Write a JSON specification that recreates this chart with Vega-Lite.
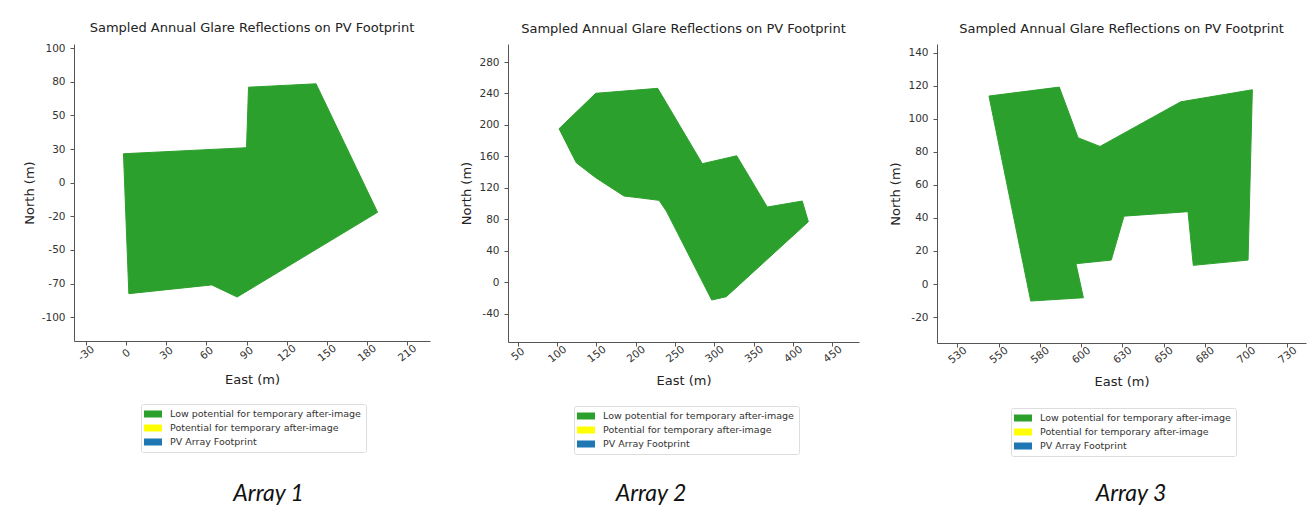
{
  "$schema": "https://vega.github.io/schema/vega-lite/v6.json",
  "background": "white",
  "padding": {"left": 23, "top": 22, "right": 5, "bottom": 0},
  "datasets": {
    "a1": [
      {"i": 0, "east": -2, "north": 21.5, "cat": "Low potential for temporary after-image"},
      {"i": 1, "east": 90, "north": 26, "cat": "Low potential for temporary after-image"},
      {"i": 2, "east": 91.5, "north": 71, "cat": "Low potential for temporary after-image"},
      {"i": 3, "east": 142, "north": 73.5, "cat": "Low potential for temporary after-image"},
      {"i": 4, "east": 188, "north": -22, "cat": "Low potential for temporary after-image"},
      {"i": 5, "east": 83, "north": -85, "cat": "Low potential for temporary after-image"},
      {"i": 6, "east": 64, "north": -76, "cat": "Low potential for temporary after-image"},
      {"i": 7, "east": 2, "north": -82.5, "cat": "Low potential for temporary after-image"},
      {"i": 8, "east": -2, "north": 21.5, "cat": "Low potential for temporary after-image"}
    ],
    "a2": [
      {"i": 0, "east": 102.5, "north": 195.2, "cat": "Low potential for temporary after-image"},
      {"i": 1, "east": 149.1, "north": 240.2, "cat": "Low potential for temporary after-image"},
      {"i": 2, "east": 227.9, "north": 246.5, "cat": "Low potential for temporary after-image"},
      {"i": 3, "east": 284.6, "north": 150.7, "cat": "Low potential for temporary after-image"},
      {"i": 4, "east": 328.3, "north": 160.8, "cat": "Low potential for temporary after-image"},
      {"i": 5, "east": 367.2, "north": 95.6, "cat": "Low potential for temporary after-image"},
      {"i": 6, "east": 411.7, "north": 103.2, "cat": "Low potential for temporary after-image"},
      {"i": 7, "east": 419.4, "north": 76.9, "cat": "Low potential for temporary after-image"},
      {"i": 8, "east": 315.1, "north": -18.4, "cat": "Low potential for temporary after-image"},
      {"i": 9, "east": 296.6, "north": -22.6, "cat": "Low potential for temporary after-image"},
      {"i": 10, "east": 238.9, "north": 90.5, "cat": "Low potential for temporary after-image"},
      {"i": 11, "east": 229.6, "north": 104.1, "cat": "Low potential for temporary after-image"},
      {"i": 12, "east": 204.1, "north": 107.4, "cat": "Low potential for temporary after-image"},
      {"i": 13, "east": 185.1, "north": 109.6, "cat": "Low potential for temporary after-image"},
      {"i": 14, "east": 149.1, "north": 132.9, "cat": "Low potential for temporary after-image"},
      {"i": 15, "east": 124.4, "north": 151.9, "cat": "Low potential for temporary after-image"},
      {"i": 16, "east": 102.5, "north": 195.2, "cat": "Low potential for temporary after-image"}
    ],
    "a3": [
      {"i": 0, "east": 544.2, "north": 113.8, "cat": "Low potential for temporary after-image"},
      {"i": 1, "east": 586.8, "north": 119.2, "cat": "Low potential for temporary after-image"},
      {"i": 2, "east": 598.2, "north": 88.5, "cat": "Low potential for temporary after-image"},
      {"i": 3, "east": 611.5, "north": 83.3, "cat": "Low potential for temporary after-image"},
      {"i": 4, "east": 660.4, "north": 110.3, "cat": "Low potential for temporary after-image"},
      {"i": 5, "east": 703.8, "north": 117.6, "cat": "Low potential for temporary after-image"},
      {"i": 6, "east": 701.2, "north": 14.5, "cat": "Low potential for temporary after-image"},
      {"i": 7, "east": 668, "north": 11.3, "cat": "Low potential for temporary after-image"},
      {"i": 8, "east": 664.8, "north": 43.8, "cat": "Low potential for temporary after-image"},
      {"i": 9, "east": 626, "north": 41.1, "cat": "Low potential for temporary after-image"},
      {"i": 10, "east": 618.3, "north": 14.5, "cat": "Low potential for temporary after-image"},
      {"i": 11, "east": 596.9, "north": 12.3, "cat": "Low potential for temporary after-image"},
      {"i": 12, "east": 601.4, "north": -8.3, "cat": "Low potential for temporary after-image"},
      {"i": 13, "east": 569.5, "north": -10.3, "cat": "Low potential for temporary after-image"},
      {"i": 14, "east": 544.2, "north": 113.8, "cat": "Low potential for temporary after-image"}
    ]
  },
  "config": {
    "font": "DejaVu Sans",
    "view": {"stroke": null},
    "axis": {"grid": false, "domainColor": "#555", "tickColor": "#555", "tickSize": 4, "labelColor": "#333", "labelFont": "DejaVu Sans", "labelFontSize": 10.5, "titleFont": "DejaVu Sans", "titleFontSize": 13, "titleFontWeight": "normal", "titleColor": "#222"},
    "axisX": {"labelAngle": -38, "labelAlign": "center", "labelBaseline": "middle", "labelPadding": 8, "titlePadding": 10},
    "axisY": {"labelPadding": 5, "titlePadding": 5},
    "title": {"font": "DejaVu Sans", "fontSize": 13, "fontWeight": "normal", "color": "#222", "offset": 8},
    "legend": {"labelFont": "DejaVu Sans", "labelFontSize": 9.5, "labelColor": "#333", "symbolType": "M-1.8,-0.7H1.8V0.7H-1.8Z", "symbolSize": 100, "symbolStrokeWidth": 0, "symbolOpacity": 1, "symbolOffset": 2, "padding": 5, "rowPadding": 4, "strokeColor": "#ddd", "fillColor": "white", "cornerRadius": 2, "labelOffset": 12, "labelLimit": 0}
  },
  "spacing": 30,
  "resolve": {"scale": {"fill": "independent"}, "legend": {"fill": "independent"}},
  "hconcat": [
    {
      "title": {"text": "Array 1", "orient": "bottom", "anchor": "middle", "font": "Lato", "fontStyle": "italic", "fontSize": 23, "fontWeight": "normal", "color": "#111", "offset": 30, "dx": 42},
      "vconcat": [
        {
          "width": 356, "height": 297,
          "title": {"text": "Sampled Annual Glare Reflections on PV Footprint"},
          "data": {"name": "a1"},
          "mark": {"type": "line", "stroke": "#2ca02c", "strokeWidth": 1},
          "encoding": {
            "x": {"field": "east", "type": "quantitative", "scale": {"domain": [-39, 227.2], "nice": false, "zero": false}, "axis": {"title": "East (m)", "values": [-30, 0, 30, 60, 90, 120, 150, 180, 210], "labelExpr": "'' + datum.value"}},
            "y": {"field": "north", "type": "quantitative", "scale": {"domain": [-117.7, 103.1], "nice": false, "zero": false}, "axis": {"title": "North (m)", "values": [-100, -75, -50, -25, 0, 25, 50, 75, 100], "labelExpr": "datum.value == 75 ? '80' : datum.value == 25 ? '30' : datum.value == -25 ? '-20' : datum.value == -75 ? '-70' : '' + datum.value"}},
            "order": {"field": "i", "type": "quantitative"},
            "fill": {"field": "cat", "type": "nominal", "scale": {"domain": ["Low potential for temporary after-image", "Potential for temporary after-image", "PV Array Footprint"], "range": ["#2ca02c", "#ffff00", "#1f77b4"]}, "legend": {"title": null, "orient": "none", "legendX": 67, "legendY": 360}}
          }
        }
      ]
    },
    {
      "spacing": 30,
      "resolve": {"scale": {"fill": "independent"}, "legend": {"fill": "independent"}},
      "hconcat": [
        {
          "title": {"text": "Array 2", "orient": "bottom", "anchor": "middle", "font": "Lato", "fontStyle": "italic", "fontSize": 23, "fontWeight": "normal", "color": "#111", "offset": 28, "dx": -9},
          "vconcat": [
            {
              "width": 351, "height": 298,
              "title": {"text": "Sampled Annual Glare Reflections on PV Footprint"},
              "data": {"name": "a2"},
              "mark": {"type": "line", "stroke": "#2ca02c", "strokeWidth": 1},
              "encoding": {
                "x": {"field": "east", "type": "quantitative", "scale": {"domain": [37.6, 483.8], "nice": false, "zero": false}, "axis": {"title": "East (m)", "values": [50, 100, 150, 200, 250, 300, 350, 400, 450], "labelExpr": "'' + datum.value"}},
                "y": {"field": "north", "type": "quantitative", "scale": {"domain": [-76, 302.9], "nice": false, "zero": false}, "axis": {"title": "North (m)", "values": [-40, 0, 40, 80, 120, 160, 200, 240, 280], "labelExpr": "'' + datum.value"}},
                "order": {"field": "i", "type": "quantitative"},
                "fill": {"field": "cat", "type": "nominal", "scale": {"domain": ["Low potential for temporary after-image", "Potential for temporary after-image", "PV Array Footprint"], "range": ["#2ca02c", "#ffff00", "#1f77b4"]}, "legend": {"title": null, "orient": "none", "legendX": 66, "legendY": 362}}
              }
            }
          ]
        },
        {
          "title": {"text": "Array 3", "orient": "bottom", "anchor": "middle", "font": "Lato", "fontStyle": "italic", "fontSize": 23, "fontWeight": "normal", "color": "#111", "offset": 26, "dx": 33},
          "vconcat": [
            {
              "width": 369, "height": 299,
              "title": {"text": "Sampled Annual Glare Reflections on PV Footprint"},
              "data": {"name": "a3"},
              "mark": {"type": "line", "stroke": "#2ca02c", "strokeWidth": 1},
              "encoding": {
                "x": {"field": "east", "type": "quantitative", "scale": {"domain": [512.7, 736.3], "nice": false, "zero": false}, "axis": {"title": "East (m)", "values": [525, 550, 575, 600, 625, 650, 675, 700, 725], "labelExpr": "datum.value == 525 ? '530' : datum.value == 575 ? '580' : datum.value == 625 ? '630' : datum.value == 675 ? '680' : datum.value == 725 ? '730' : '' + datum.value"}},
                "y": {"field": "north", "type": "quantitative", "scale": {"domain": [-35.7, 145.3], "nice": false, "zero": false}, "axis": {"title": "North (m)", "values": [-20, 0, 20, 40, 60, 80, 100, 120, 140], "labelExpr": "'' + datum.value"}},
                "order": {"field": "i", "type": "quantitative"},
                "fill": {"field": "cat", "type": "nominal", "scale": {"domain": ["Low potential for temporary after-image", "Potential for temporary after-image", "PV Array Footprint"], "range": ["#2ca02c", "#ffff00", "#1f77b4"]}, "legend": {"title": null, "orient": "none", "legendX": 74, "legendY": 364}}
              }
            }
          ]
        }
      ]
    }
  ]
}
